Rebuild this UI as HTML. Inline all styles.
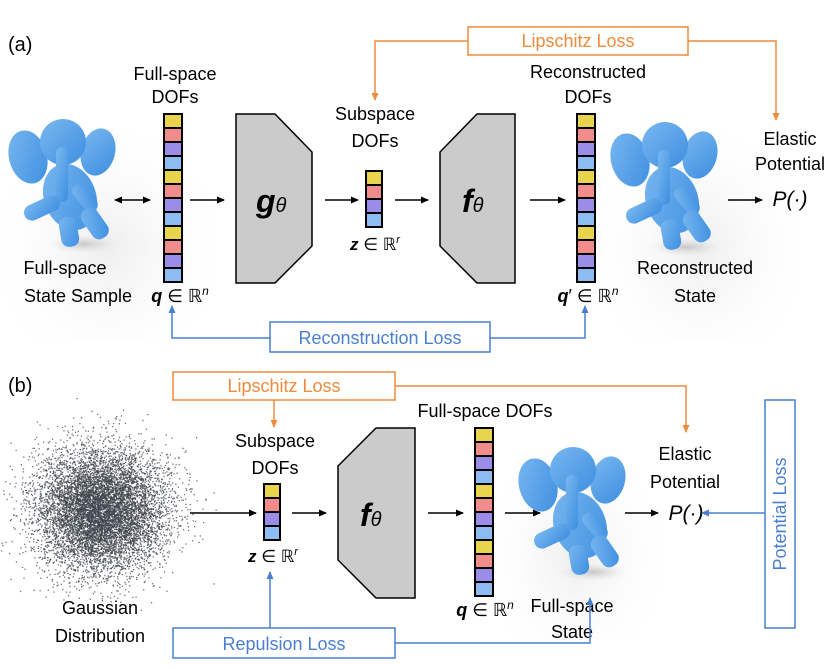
<!DOCTYPE html>
<html><head><meta charset="utf-8"><style>
body{margin:0;background:#fff}
svg text{font-family:"Liberation Sans",sans-serif;}
</style></head><body>
<svg width="830" height="664" viewBox="0 0 830 664" xmlns="http://www.w3.org/2000/svg">
<defs>
<marker id="ab" markerWidth="8" markerHeight="8" refX="7" refY="4" orient="auto" markerUnits="userSpaceOnUse"><path d="M0,0.5 L8,4 L0,7.5z" fill="#000"/></marker>
<marker id="abs" markerWidth="8" markerHeight="8" refX="1" refY="4" orient="auto" markerUnits="userSpaceOnUse"><path d="M8,0.5 L0,4 L8,7.5z" fill="#000"/></marker>
<marker id="ao" markerWidth="8" markerHeight="8" refX="7" refY="4" orient="auto" markerUnits="userSpaceOnUse"><path d="M0,0.5 L8,4 L0,7.5z" fill="#f08a3c"/></marker>
<marker id="au" markerWidth="8" markerHeight="8" refX="7" refY="4" orient="auto" markerUnits="userSpaceOnUse"><path d="M0,0.5 L8,4 L0,7.5z" fill="#4a7fd0"/></marker>
<radialGradient id="sh" cx="0.5" cy="0.5" r="0.5"><stop offset="0" stop-color="#bbb" stop-opacity="0.8"/><stop offset="1" stop-color="#ddd" stop-opacity="0"/></radialGradient>
<radialGradient id="bg" cx="0.5" cy="0.6" r="0.6"><stop offset="0" stop-color="#eee"/><stop offset="1" stop-color="#fff" stop-opacity="0"/></radialGradient>
<linearGradient id="eg" x1="0" y1="0" x2="1" y2="1"><stop offset="0" stop-color="#7ab8f0"/><stop offset="1" stop-color="#3d8ee0"/></linearGradient>
<symbol id="el" viewBox="0 0 110 145" width="110" height="145">
<ellipse cx="75" cy="132" rx="35" ry="9" fill="url(#sh)"/>
<g fill="url(#eg)">
<ellipse cx="20" cy="45" rx="19" ry="27" transform="rotate(-15 20 45)"/>
<ellipse cx="90" cy="40" rx="17" ry="24" transform="rotate(15 90 40)"/>
<circle cx="55" cy="30" r="23"/>
<ellipse cx="62" cy="85" rx="26" ry="34" transform="rotate(-20 62 85)"/>
<rect x="48" y="35" width="12" height="55" rx="6"/>
<rect x="15" y="88" width="38" height="16" rx="8" transform="rotate(-25 34 96)"/>
<rect x="70" y="70" width="14" height="32" rx="7" transform="rotate(-40 77 86)"/>
<rect x="52" y="105" width="18" height="30" rx="8" transform="rotate(-10 60 120)"/>
<rect x="78" y="95" width="18" height="34" rx="8" transform="rotate(-35 86 112)"/>
</g>
</symbol>
</defs>

<rect x="0" y="110" width="215" height="230" fill="url(#bg)"/>
<rect x="600" y="110" width="200" height="230" fill="url(#bg)"/>
<rect x="490" y="430" width="170" height="210" fill="url(#bg)"/>

<text x="8" y="51" font-size="20">(a)</text>
<rect x="468" y="27" width="220" height="28" fill="#fff" stroke="#f08a3c" stroke-width="1.5"/>
<text x="578" y="47" font-size="18" fill="#f08a3c" text-anchor="middle">Lipschitz Loss</text>
<polyline points="468,41 375,41 375,100" fill="none" stroke="#f08a3c" stroke-width="1.5" marker-end="url(#ao)"/>
<polyline points="688,41 776,41 776,120" fill="none" stroke="#f08a3c" stroke-width="1.5" marker-end="url(#ao)"/>

<use href="#el" x="8" y="112"/>
<use href="#el" x="610" y="115"/>

<g font-size="18" text-anchor="middle">
<text x="175" y="80">Full-space</text><text x="175" y="103">DOFs</text>
<text x="375" y="120">Subspace</text><text x="375" y="147">DOFs</text>
<text x="588" y="78">Reconstructed</text><text x="588" y="103">DOFs</text>
<text x="790" y="145">Elastic</text><text x="790" y="170">Potential</text>
<text x="65" y="274">Full-space</text><text x="78" y="302">State Sample</text>
<text x="695" y="274">Reconstructed</text><text x="695" y="302">State</text>
<text x="790" y="206" font-family="Liberation Serif" font-style="italic" font-size="21">P(·)</text>
<text x="180" y="302" font-family="Liberation Serif"><tspan font-weight="bold" font-style="italic">q</tspan> ∈ ℝ<tspan font-size="12" dy="-7" font-style="italic">n</tspan></text>
<text x="375" y="250" font-family="Liberation Serif" font-size="17"><tspan font-weight="bold" font-style="italic">z</tspan> ∈ ℝ<tspan font-size="11" dy="-7" font-style="italic">r</tspan></text>
<text x="588" y="302" font-family="Liberation Serif"><tspan font-weight="bold" font-style="italic">q</tspan>′ ∈ ℝ<tspan font-size="12" dy="-7" font-style="italic">n</tspan></text>
</g>

<g stroke="#000" stroke-width="2">
<g transform="translate(164,114)">
<rect y="0" width="18" height="14" fill="#e8d44d"/><rect y="14" width="18" height="14" fill="#f08c8c"/><rect y="28" width="18" height="14" fill="#9b8ce8"/><rect y="42" width="18" height="14" fill="#8cbcf0"/>
<rect y="56" width="18" height="14" fill="#e8d44d"/><rect y="70" width="18" height="14" fill="#f08c8c"/><rect y="84" width="18" height="14" fill="#9b8ce8"/><rect y="98" width="18" height="14" fill="#8cbcf0"/>
<rect y="112" width="18" height="14" fill="#e8d44d"/><rect y="126" width="18" height="14" fill="#f08c8c"/><rect y="140" width="18" height="14" fill="#9b8ce8"/><rect y="154" width="18" height="14" fill="#8cbcf0"/>
</g>
<g transform="translate(577,114)">
<rect y="0" width="18" height="14" fill="#e8d44d"/><rect y="14" width="18" height="14" fill="#f08c8c"/><rect y="28" width="18" height="14" fill="#9b8ce8"/><rect y="42" width="18" height="14" fill="#8cbcf0"/>
<rect y="56" width="18" height="14" fill="#e8d44d"/><rect y="70" width="18" height="14" fill="#f08c8c"/><rect y="84" width="18" height="14" fill="#9b8ce8"/><rect y="98" width="18" height="14" fill="#8cbcf0"/>
<rect y="112" width="18" height="14" fill="#e8d44d"/><rect y="126" width="18" height="14" fill="#f08c8c"/><rect y="140" width="18" height="14" fill="#9b8ce8"/><rect y="154" width="18" height="14" fill="#8cbcf0"/>
</g>
<g transform="translate(366,171)">
<rect y="0" width="16" height="14" fill="#e8d44d"/><rect y="14" width="16" height="14" fill="#f08c8c"/><rect y="28" width="16" height="14" fill="#9b8ce8"/><rect y="42" width="16" height="14" fill="#8cbcf0"/>
</g>
<g transform="translate(264,484)">
<rect y="0" width="16" height="14" fill="#e8d44d"/><rect y="14" width="16" height="14" fill="#f08c8c"/><rect y="28" width="16" height="14" fill="#9b8ce8"/><rect y="42" width="16" height="14" fill="#8cbcf0"/>
</g>
<g transform="translate(475,428)">
<rect y="0" width="18" height="14" fill="#e8d44d"/><rect y="14" width="18" height="14" fill="#f08c8c"/><rect y="28" width="18" height="14" fill="#9b8ce8"/><rect y="42" width="18" height="14" fill="#8cbcf0"/>
<rect y="56" width="18" height="14" fill="#e8d44d"/><rect y="70" width="18" height="14" fill="#f08c8c"/><rect y="84" width="18" height="14" fill="#9b8ce8"/><rect y="98" width="18" height="14" fill="#8cbcf0"/>
<rect y="112" width="18" height="14" fill="#e8d44d"/><rect y="126" width="18" height="14" fill="#f08c8c"/><rect y="140" width="18" height="14" fill="#9b8ce8"/><rect y="154" width="18" height="14" fill="#8cbcf0"/>
</g>
</g>

<g fill="#cbcbcb" stroke="#000" stroke-width="1.5">
<path d="M236,114 L275,114 L312,152 L312,246 L275,283 L236,283z"/>
<path d="M515,114 L477,114 L440,152 L440,246 L477,283 L515,283z"/>
<path d="M415,428 L376,428 L338,466 L338,560 L376,598 L415,598z"/>
</g>
<g font-family="Liberation Serif" font-style="italic" font-weight="bold" font-size="32">
<text x="256" y="212">g<tspan font-size="20" font-weight="normal">θ</tspan></text>
<text x="462" y="212">f<tspan font-size="20" font-weight="normal">θ</tspan></text>
<text x="360" y="526">f<tspan font-size="20" font-weight="normal">θ</tspan></text>
</g>

<g stroke="#000" stroke-width="1.5" fill="none">
<line x1="115" y1="200" x2="150" y2="200" marker-start="url(#abs)" marker-end="url(#ab)"/>
<line x1="190" y1="200" x2="224" y2="200" marker-end="url(#ab)"/>
<line x1="325" y1="200" x2="358" y2="200" marker-end="url(#ab)"/>
<line x1="395" y1="200" x2="428" y2="200" marker-end="url(#ab)"/>
<line x1="530" y1="200" x2="565" y2="200" marker-end="url(#ab)"/>
<line x1="728" y1="200" x2="762" y2="200" marker-end="url(#ab)"/>
<line x1="190" y1="513" x2="256" y2="513" marker-end="url(#ab)"/>
<line x1="292" y1="513" x2="326" y2="513" marker-end="url(#ab)"/>
<line x1="428" y1="513" x2="463" y2="513" marker-end="url(#ab)"/>
<line x1="505" y1="513" x2="540" y2="513" marker-end="url(#ab)"/>
<line x1="625" y1="513" x2="658" y2="513" marker-end="url(#ab)"/>
</g>

<rect x="270" y="322" width="220" height="30" fill="#fff" stroke="#4a7fd0" stroke-width="1.5"/>
<text x="380" y="344" font-size="18" fill="#4a7fd0" text-anchor="middle">Reconstruction Loss</text>
<polyline points="270,338 172,338 172,306" fill="none" stroke="#4a7fd0" stroke-width="1.5" marker-end="url(#au)"/>
<polyline points="490,338 585,338 585,306" fill="none" stroke="#4a7fd0" stroke-width="1.5" marker-end="url(#au)"/>

<text x="8" y="392" font-size="20">(b)</text>
<rect x="173" y="372" width="222" height="28" fill="#fff" stroke="#f08a3c" stroke-width="1.5"/>
<text x="284" y="392" font-size="18" fill="#f08a3c" text-anchor="middle">Lipschitz Loss</text>
<line x1="274" y1="400" x2="274" y2="427" stroke="#f08a3c" stroke-width="1.5" marker-end="url(#ao)"/>
<polyline points="395,386 686,386 686,432" fill="none" stroke="#f08a3c" stroke-width="1.5" marker-end="url(#ao)"/>

<g id="cloud"></g>

<use href="#el" x="518" y="440"/>

<g font-size="18" text-anchor="middle">
<text x="100" y="614">Gaussian</text><text x="100" y="642">Distribution</text>
<text x="275" y="447">Subspace</text><text x="275" y="474">DOFs</text>
<text x="485" y="417">Full-space DOFs</text>
<text x="685" y="460">Elastic</text><text x="685" y="488">Potential</text>
<text x="572" y="612">Full-space</text><text x="572" y="638">State</text>
<text x="686" y="520" font-family="Liberation Serif" font-style="italic" font-size="21">P(·)</text>
<text x="273" y="562" font-family="Liberation Serif" font-size="17"><tspan font-weight="bold" font-style="italic">z</tspan> ∈ ℝ<tspan font-size="11" dy="-7" font-style="italic">r</tspan></text>
<text x="485" y="616" font-family="Liberation Serif"><tspan font-weight="bold" font-style="italic">q</tspan> ∈ ℝ<tspan font-size="12" dy="-7" font-style="italic">n</tspan></text>
</g>

<rect x="173" y="628" width="222" height="30" fill="#fff" stroke="#4a7fd0" stroke-width="1.5"/>
<text x="284" y="650" font-size="18" fill="#4a7fd0" text-anchor="middle">Repulsion Loss</text>
<line x1="270" y1="628" x2="270" y2="572" stroke="#4a7fd0" stroke-width="1.5" marker-end="url(#au)"/>
<polyline points="395,643 590,643 590,598" fill="none" stroke="#4a7fd0" stroke-width="1.5" marker-end="url(#au)"/>

<rect x="765" y="400" width="30" height="228" fill="#fff" stroke="#4a7fd0" stroke-width="1.5"/>
<text x="786" y="514" font-size="18" fill="#4a7fd0" text-anchor="middle" transform="rotate(-90 786 514)">Potential Loss</text>
<line x1="765" y1="513" x2="702" y2="513" stroke="#4a7fd0" stroke-width="1.5" marker-end="url(#au)"/>
</svg>
<script>
(function(){
var g=document.getElementById('cloud');var s=12345;
function r(){s=(s*16807)%2147483647;return s/2147483647;}
function n(){return Math.sqrt(-2*Math.log(r()+1e-9))*Math.cos(2*Math.PI*r());}
var h='';
for(var i=0;i<9000;i++){var x=100+n()*32,y=510+n()*30;h+='<rect x="'+x.toFixed(1)+'" y="'+y.toFixed(1)+'" width="1.3" height="1.3" fill="#3f444c" opacity="0.75"/>';}
g.innerHTML=h;
})();
</script>
</body></html>
